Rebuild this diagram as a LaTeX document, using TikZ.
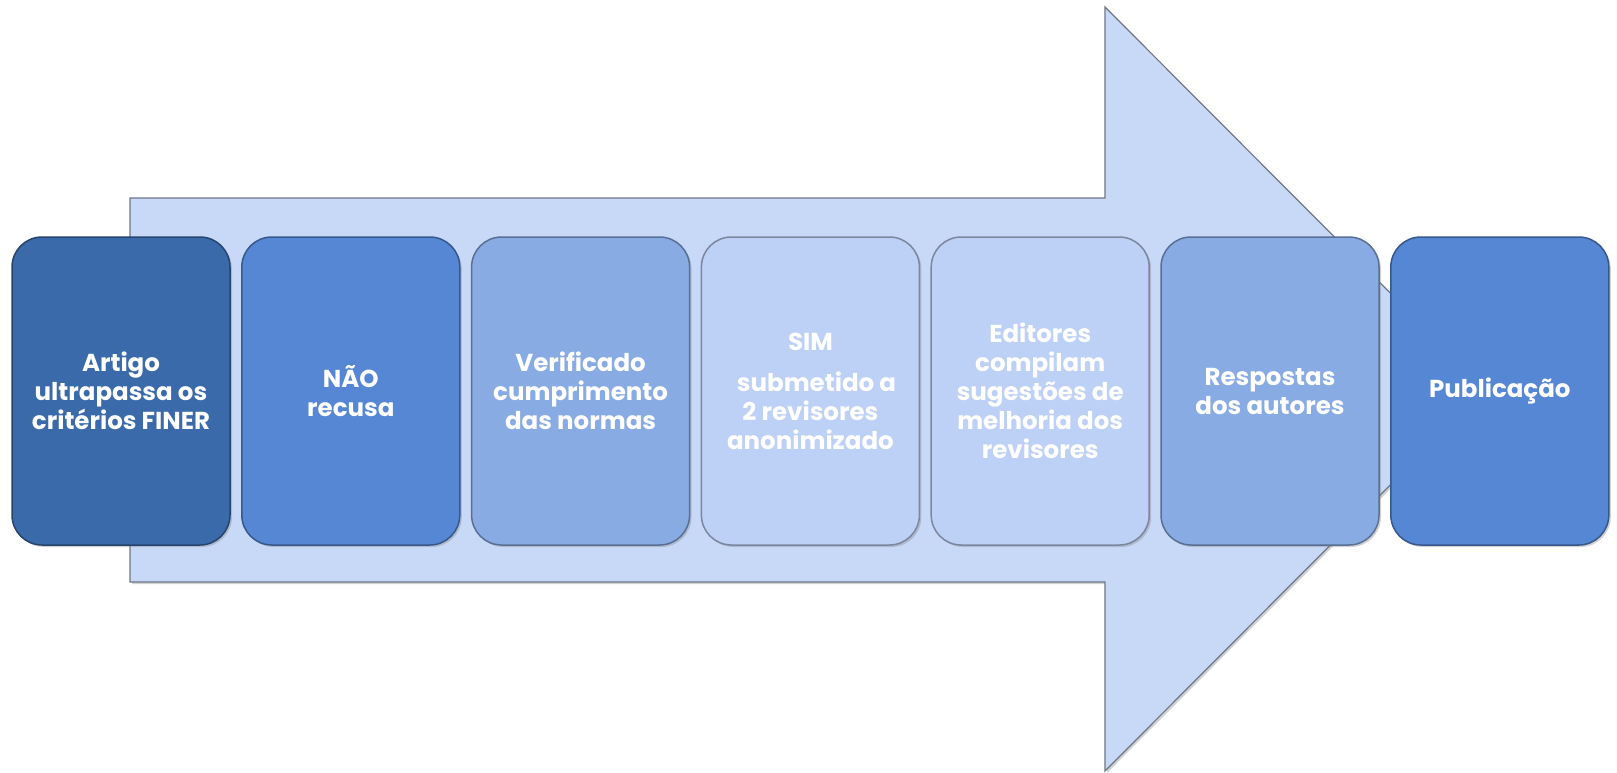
\documentclass[tikz,border=0pt]{standalone}
\usepackage{fontspec}
\setmainfont{Poppins}
\usetikzlibrary{shadows}
\definecolor{arrowfill}{HTML}{C8D9F8}
\definecolor{cA}{HTML}{3A6AAA}
\definecolor{cB}{HTML}{5587D4}
\definecolor{cC}{HTML}{89ABE4}
\definecolor{cD}{HTML}{BDD0F5}
\tikzset{
  bigarrow/.style={fill=arrowfill, draw=black!45!arrowfill, line width=1.2pt,
    drop shadow={shadow xshift=2pt, shadow yshift=-2pt, opacity=0.35}},
  stepbox/.style={rectangle, rounded corners=30pt, minimum width=218pt, minimum height=308pt,
    draw=black!35!#1, line width=1.5pt, fill=#1, text=white, align=center,
    font=\bfseries\fontsize{24.5}{29}\selectfont,
    drop shadow={shadow xshift=2pt, shadow yshift=-2pt, opacity=0.35}},
}
\begin{document}
\begin{tikzpicture}[x=1pt,y=-1pt]
\useasboundingbox (0,0) rectangle (1617,772);
\fill[white] (0,0) rectangle (1617,772);
\draw[bigarrow] (130,198) -- (1105,198) -- (1105,7) -- (1486,389) -- (1105,771) -- (1105,582) -- (130,582) -- cycle;
\node[stepbox=cA] (n1) at (121,391) {Artigo\\ultrapassa os\\critérios FINER};
\node[stepbox=cB] (n2) at (350.8,391) {NÃO\\recusa};
\node[stepbox=cC] (n3) at (580.6,391) {Verificado\\cumprimento\\das normas};
\node[stepbox=cD] (n4) at (810.4,391) {SIM\\[12pt]\hspace*{0.5em}submetido a\\2 revisores\\anonimizado};
\node[stepbox=cD] (n5) at (1040.2,391) {Editores\\compilam\\sugestões de\\melhoria dos\\revisores};
\node[stepbox=cC] (n6) at (1270,391) {Respostas\\dos autores};
\node[stepbox=cB] (n7) at (1499.8,391) {Publicação};
\end{tikzpicture}
\end{document}
